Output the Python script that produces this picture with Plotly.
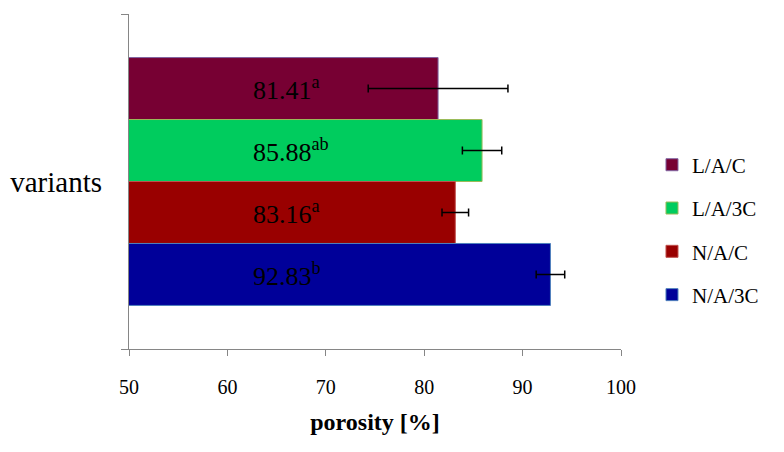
import plotly.graph_objects as go

# Data (top-to-bottom order)
variants = ["L/A/C", "L/A/3C", "N/A/C", "N/A/3C"]
porosity = [81.41, 85.88, 83.16, 92.83]
errors = [7.1, 2.0, 1.35, 1.45]
letters = ["a", "ab", "a", "b"]
category = ["variants"]
x_ticks = [50, 60, 70, 80, 90, 100]

fill_colors = ["#770033", "#00CC5E", "#990000", "#000099"]
line_colors = ["#8064A2", "#9BBB59", "#C0504D", "#4F81BD"]

FONT = "Liberation Serif"
bargap = 0.26

fig = go.Figure()
for i, name in enumerate(variants):
    fig.add_trace(go.Bar(
        name=name,
        y=category,
        x=[porosity[i]],
        orientation="h",
        marker=dict(color=fill_colors[i], line=dict(color=line_colors[i], width=1)),
        error_x=dict(type="data", array=[errors[i]], color="black", thickness=1.5, width=4),
        legendgroup=name,
    ))

# value labels positioned at bar centres (y axis reversed: first trace on top)
n = len(variants)
w = (1 - bargap) / n
for i in range(n):
    yc = -(1 - bargap) / 2 + w * (i + 0.5)
    fig.add_annotation(
        x=62.4, y=yc, xref="x", yref="y", xanchor="left", yanchor="middle",
        text=f"{porosity[i]:.2f}<sup>{letters[i]}</sup>", showarrow=False,
        font=dict(family=FONT, size=26, color="black"),
    )

fig.update_layout(
    width=784, height=452,
    margin=dict(l=121, r=171, t=6, b=111),
    paper_bgcolor="white", plot_bgcolor="white",
    barmode="group", bargap=bargap, bargroupgap=0,
    font=dict(family=FONT, color="black"),
    showlegend=True,
    legend=dict(
        x=1.063, y=0.355, xanchor="left", yanchor="middle",
        traceorder="grouped", tracegroupgap=13,
        font=dict(family=FONT, size=21, color="black"),
        bgcolor="rgba(0,0,0,0)",
    ),
    xaxis=dict(
        range=[50, 100], tickvals=x_ticks, showgrid=False, zeroline=False,
        showline=True, linecolor="#868686", linewidth=1.3,
        ticks="outside", ticklen=6, tickcolor="#868686", ticklabelstandoff=14,
        tickfont=dict(family=FONT, size=20, color="black"),
        title=dict(text="<b>porosity [%]</b>", font=dict(family=FONT, size=24, color="black"), standoff=16),
        automargin=False,
    ),
    yaxis=dict(
        type="category", autorange="reversed", showgrid=False, zeroline=False,
        showline=True, linecolor="#868686", linewidth=1.3,
        ticks="outside", ticklen=7, tickcolor="#868686", tickson="boundaries",
        ticklabelstandoff=20,
        tickfont=dict(family=FONT, size=29, color="black"),
        automargin=False,
    ),
)

fig.write_html("out.html")
